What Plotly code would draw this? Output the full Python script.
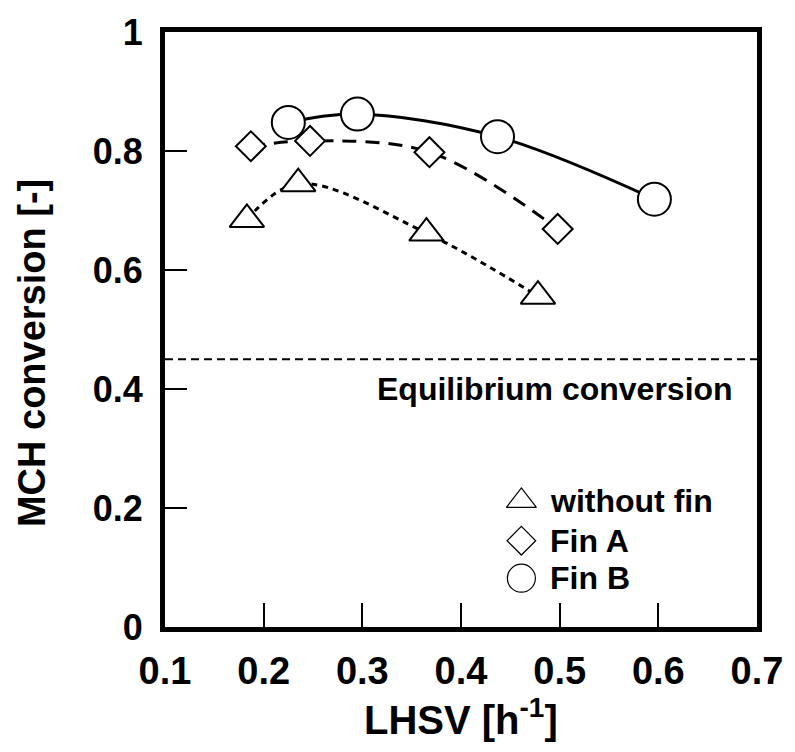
import plotly.graph_objects as go

# ---- data ----
lhsv_nofin = [0.183, 0.235, 0.365, 0.478]
conv_nofin = [0.685, 0.745, 0.662, 0.556]

lhsv_finA = [0.187, 0.247, 0.368, 0.498]
conv_finA = [0.808, 0.817, 0.798, 0.669]

lhsv_finB = [0.225, 0.295, 0.437, 0.596]
conv_finB = [0.848, 0.862, 0.824, 0.719]

eq_conversion = 0.45
x_range = [0.1, 0.7]
y_range = [0, 1]

legend_names = ["without fin", "Fin A", "Fin B"]
legend_symbols = ["triangle-up-open", "diamond-open", "circle-open"]
legend_y = [0.212, 0.145, 0.082]

FONT = "Liberation Sans, Arial, sans-serif"

fig = go.Figure()

# equilibrium line
fig.add_trace(go.Scatter(x=x_range, y=[eq_conversion, eq_conversion], mode="lines",
                         line=dict(color="black", width=2, dash="8px,5px"),
                         showlegend=False, hoverinfo="skip"))

def series(x, y, symbol, size, dash):
    fig.add_trace(go.Scatter(x=x, y=y, mode="lines", line=dict(color="black", width=3, dash=dash, shape="spline", smoothing=1.0),
                             showlegend=False, hoverinfo="skip"))
    fig.add_trace(go.Scatter(x=x, y=y, mode="markers",
                             marker=dict(symbol=symbol, size=size, color="white",
                                         line=dict(color="black", width=2)),
                             showlegend=False))

series(lhsv_nofin, conv_nofin, "triangle-up", 30, "6px,5px")
series(lhsv_finA, conv_finA, "diamond", 23, "14px,9px")
series(lhsv_finB, conv_finB, "circle", 33, "solid")

# manual legend on overlay axes
legend_x = [0.602] * 3
legend_sizes = [26, 22, 28]
for name, sym, ly, lx, s in zip(legend_names, legend_symbols, legend_y, legend_x, legend_sizes):
    fig.add_trace(go.Scatter(x=[lx], y=[ly], mode="markers", xaxis="x2", yaxis="y2",
                             marker=dict(symbol=sym, size=s, color="black",
                                         line=dict(color="black", width=1.2)),
                             showlegend=False, hoverinfo="skip"))
    fig.add_annotation(x=lx + 0.045, y=ly, xref="x2", yref="y2", text=name, showarrow=False,
                       xanchor="left", yanchor="middle",
                       font=dict(family=FONT, size=32, color="black", weight="bold"))

fig.add_annotation(x=x_range[1], y=0.40, xref="x", yref="y", text="Equilibrium conversion",
                   showarrow=False, xanchor="right", yanchor="middle", xshift=-22,
                   font=dict(family=FONT, size=32, color="black", weight="bold"))

# axis titles
fig.add_annotation(x=-0.225, y=0.46, xref="paper", yref="paper", text="MCH conversion [-]",
                   textangle=-90, showarrow=False, xanchor="center", yanchor="middle",
                   font=dict(family=FONT, size=38, color="black", weight="bold"))
fig.add_annotation(x=0.5, y=-0.152, xref="paper", yref="paper", text="LHSV [h<sup>-1</sup>]",
                   showarrow=False, xanchor="center", yanchor="middle",
                   font=dict(family=FONT, size=40, color="black", weight="bold"))

fig.update_layout(
    width=795, height=752,
    margin=dict(l=165, r=31, t=28, b=125),
    paper_bgcolor="white", plot_bgcolor="white",
    showlegend=False,
    xaxis=dict(range=x_range, dtick=0.1, tick0=0.1, ticks="inside", ticklen=24, tickwidth=2,
               tickcolor="black", showline=True, linewidth=5, linecolor="black", mirror=True,
               showgrid=False, zeroline=False,
               tickfont=dict(family="Liberation Sans Narrow, Liberation Sans, Arial", size=38,
                             color="black", weight="bold"),
               ticklabelstandoff=6),
    yaxis=dict(range=y_range, dtick=0.2, ticks="inside", ticklen=22, tickwidth=2,
               tickcolor="black", showline=True, linewidth=5, linecolor="black", mirror=True,
               showgrid=False, zeroline=False,
               tickfont=dict(family=FONT, size=36, color="black", weight="bold"),
               ticklabelstandoff=10),
    xaxis2=dict(overlaying="x", range=[0, 1], visible=False),
    yaxis2=dict(overlaying="y", range=[0, 1], visible=False),
)

fig.write_html("out.html")
